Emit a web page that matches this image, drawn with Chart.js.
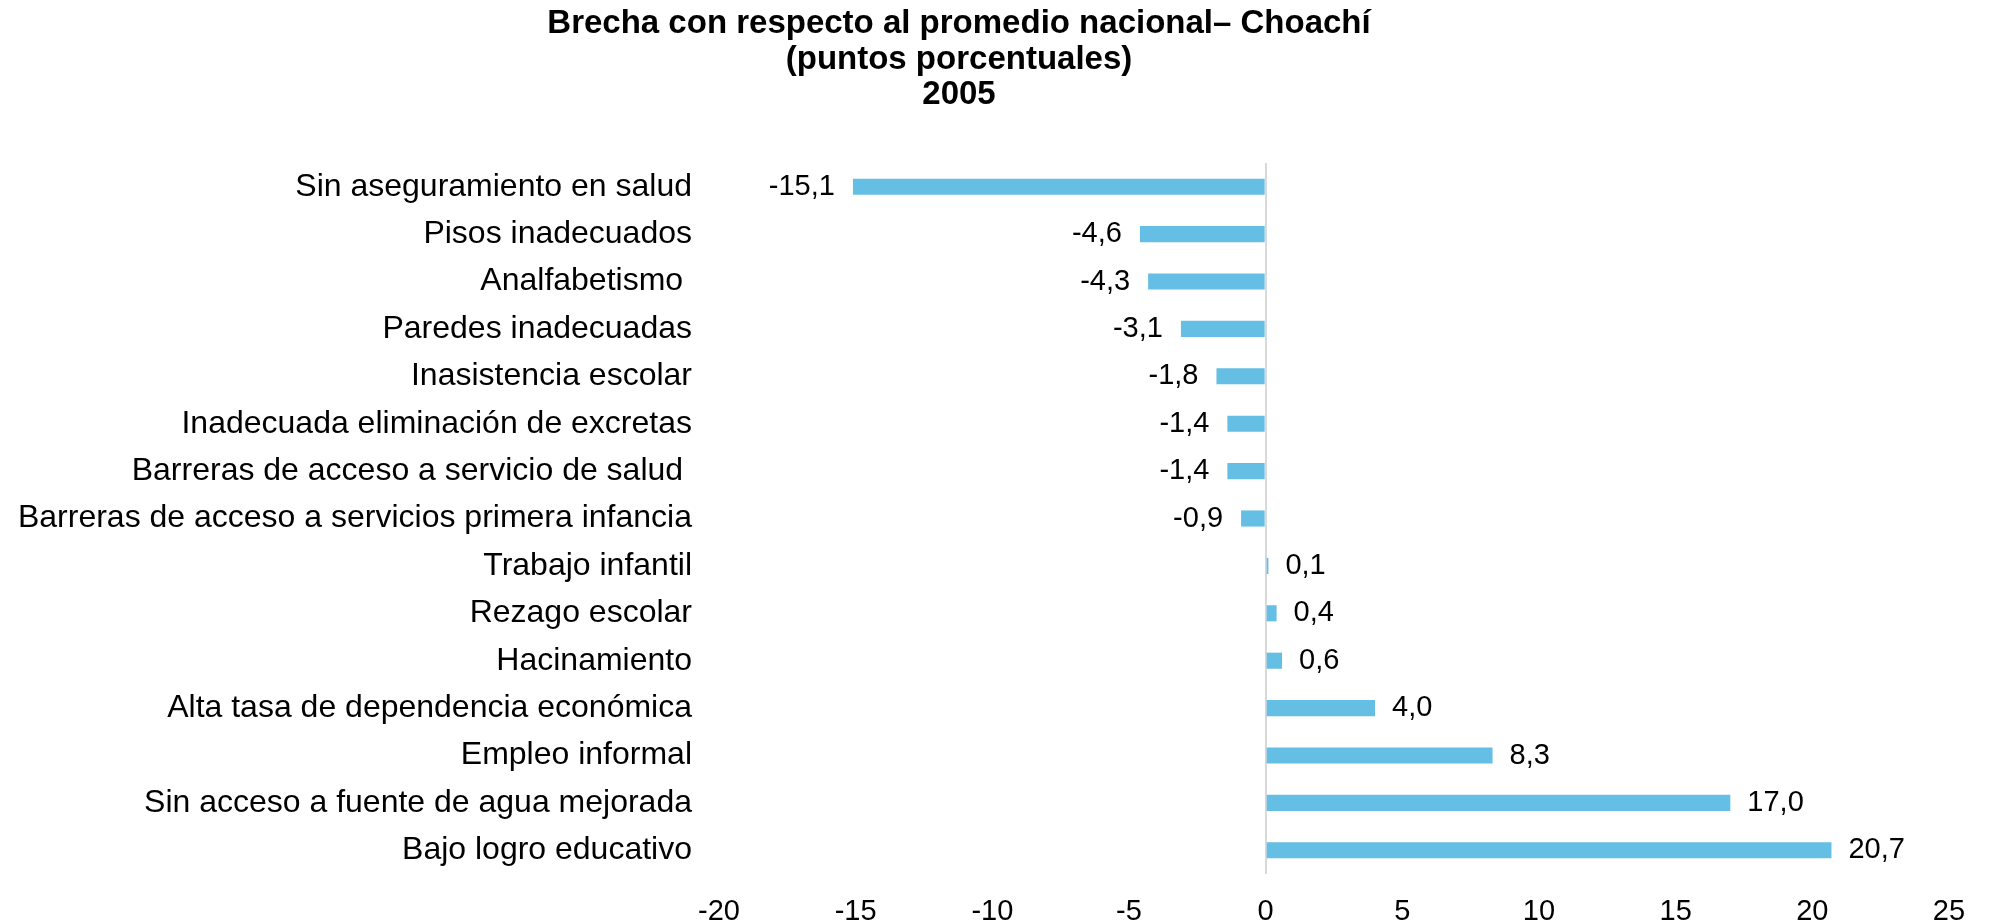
<!DOCTYPE html>
<html>
<head>
<meta charset="utf-8">
<title>Brecha con respecto al promedio nacional – Choachí</title>
<script src="https://cdn.jsdelivr.net/npm/chart.js@4/dist/chart.umd.min.js"></script>
<style>
    html, body { margin: 0; padding: 0; background: #ffffff; }
    #wrap { width: 1991px; height: 922px; position: relative; }
</style>
</head>
<body>
<div id="wrap"><canvas id="brechaChart"></canvas></div>
<script>
// Datos
const categorias = [
    'Sin aseguramiento en salud',
    'Pisos inadecuados',
    'Analfabetismo ',
    'Paredes inadecuadas',
    'Inasistencia escolar',
    'Inadecuada eliminación de excretas',
    'Barreras de acceso a servicio de salud ',
    'Barreras de acceso a servicios primera infancia',
    'Trabajo infantil',
    'Rezago escolar',
    'Hacinamiento',
    'Alta tasa de dependencia económica',
    'Empleo informal',
    'Sin acceso a fuente de agua mejorada',
    'Bajo logro educativo'
];
const brechas = [-15.1, -4.6, -4.3, -3.1, -1.8, -1.4, -1.4, -0.9, 0.1, 0.4, 0.6, 4.0, 8.3, 17.0, 20.7];
const tituloLineas = ['Brecha con respecto al promedio nacional– Choachí', '(puntos porcentuales)', '2005'];
const ejeMin = -20;
const ejeMax = 25;
const ejePaso = 5;

const FUENTE = '"Liberation Sans", Arial, Helvetica, sans-serif';
const COLOR_BARRA = '#65bee4';

function formatoValor(v) {
    return v.toFixed(1).replace('.', ',');
}

// Título dibujado a mano para poder centrarlo donde está en el original
const tituloPlugin = {
    id: 'tituloPlugin',
    afterDraw(chart) {
        const ctx = chart.ctx;
        ctx.save();
        ctx.fillStyle = '#000000';
        ctx.font = 'bold 33px ' + FUENTE;
        ctx.textAlign = 'center';
        ctx.textBaseline = 'alphabetic';
        tituloLineas.forEach((linea, i) => {
            ctx.fillText(linea, 959, 33 + i * 35.5);
        });
        ctx.restore();
    }
};

// Etiquetas de valor junto a cada barra
const etiquetasPlugin = {
    id: 'etiquetasPlugin',
    afterDatasetsDraw(chart) {
        const ctx = chart.ctx;
        const meta = chart.getDatasetMeta(0);
        ctx.save();
        ctx.fillStyle = '#000000';
        ctx.font = '29px ' + FUENTE;
        ctx.textBaseline = 'middle';
        meta.data.forEach((bar, i) => {
            const v = brechas[i];
            if (v < 0) {
                ctx.textAlign = 'right';
                ctx.fillText(formatoValor(v), bar.x - 18, bar.y);
            } else {
                ctx.textAlign = 'left';
                ctx.fillText(formatoValor(v), bar.x + 17, bar.y);
            }
        });
        ctx.restore();
    }
};

const ctx = document.getElementById('brechaChart').getContext('2d');
const myChart = new Chart(ctx, {
    type: 'bar',
    data: {
        labels: categorias,
        datasets: [{
            data: brechas,
            backgroundColor: COLOR_BARRA,
            borderWidth: 0,
            barPercentage: 0.34,
            categoryPercentage: 1.0
        }]
    },
    options: {
        indexAxis: 'y',
        responsive: true,
        maintainAspectRatio: false,
        animation: false,
        layout: { padding: { top: 163, right: 42, bottom: 0, left: 0 } },
        plugins: {
            legend: { display: false },
            title: { display: false },
            tooltip: { enabled: false }
        },
        scales: {
            x: {
                min: ejeMin,
                max: ejeMax,
                border: { display: false },
                afterFit(scale) { scale.height = 48; },
                grid: {
                    drawTicks: false,
                    lineWidth: 2,
                    color: c => (c.tick && c.tick.value === 0) ? '#d9d9d9' : 'rgba(0,0,0,0)'
                },
                ticks: {
                    stepSize: ejePaso,
                    padding: 21,
                    color: '#000000',
                    font: { family: FUENTE, size: 29 }
                }
            },
            y: {
                border: { display: false },
                grid: { display: false, drawTicks: false },
                afterFit(scale) { scale.width = 719; },
                ticks: {
                    padding: 27,
                    color: '#000000',
                    autoSkip: false,
                    font: { family: FUENTE, size: 32 }
                }
            }
        }
    },
    plugins: [tituloPlugin, etiquetasPlugin]
});
</script>
</body>
</html>
